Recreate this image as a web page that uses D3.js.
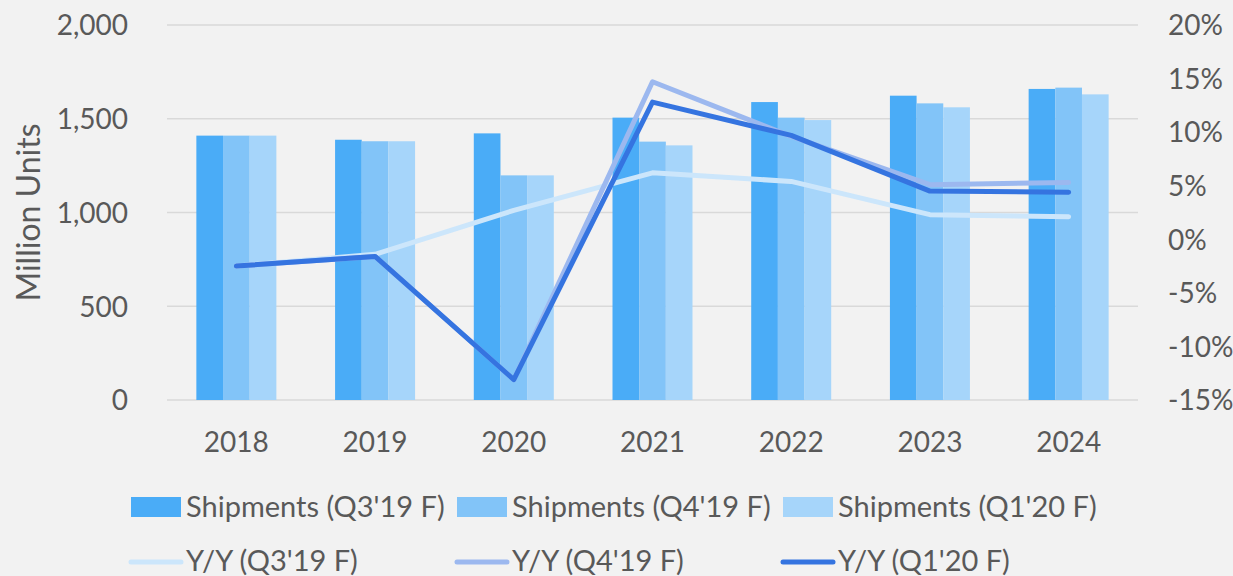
<!DOCTYPE html>
<html>
<head>
<meta charset="UTF-8">
<script src="https://cdn.jsdelivr.net/npm/d3@7"></script>
<style>
  body { margin: 0; background: #f2f2f2; }
  svg text { font-family: Lato, "Open Sans", sans-serif; fill: #595959; }
</style>
</head>
<body>
<div id="chart"></div>
<script>
// data
const years = ["2018", "2019", "2020", "2021", "2022", "2023", "2024"];
const barNames = ["Shipments (Q3'19 F)", "Shipments (Q4'19 F)", "Shipments (Q1'20 F)"];
const shipQ3 = [1410, 1388, 1422, 1506, 1589, 1623, 1659];
const shipQ4 = [1410, 1380, 1198, 1378, 1506, 1582, 1666];
const shipQ1 = [1410, 1380, 1198, 1358, 1493, 1561, 1630];
const lineNames = ["Y/Y (Q3'19 F)", "Y/Y (Q4'19 F)", "Y/Y (Q1'20 F)"];
const yoyQ3 = [-2.5, -1.4, 2.7, 6.2, 5.4, 2.3, 2.1];
const yoyQ4 = [-2.5, -1.6, -13.1, 14.7, 9.6, 5.1, 5.3];
const yoyQ1 = [-2.5, -1.6, -13.1, 12.8, 9.7, 4.5, 4.4];
const leftTicks = [0, 500, 1000, 1500, 2000];
const rightTicks = [-15, -10, -5, 0, 5, 10, 15, 20];

const barColors = ["#4aacf7", "#82c4f8", "#a6d5fa"];
const lineColors = ["#cce6fb", "#9cb8ef", "#3574e0"];

const W = 1233, H = 576;
const plot = { left: 167, right: 1138, top: 25, bottom: 400 };

const svg = d3.select("#chart").append("svg")
  .attr("width", W).attr("height", H);

svg.append("rect").attr("width", W).attr("height", H).attr("fill", "#f2f2f2");

const x = d3.scaleBand().domain(years).range([plot.left, plot.right]);
const yL = d3.scaleLinear().domain([0, 2000]).range([plot.bottom, plot.top]);
const yR = d3.scaleLinear().domain([-15, 20]).range([plot.bottom, plot.top]);

// gridlines
svg.append("g").selectAll("line").data(leftTicks).join("line")
  .attr("x1", plot.left).attr("x2", plot.right)
  .attr("y1", d => yL(d)).attr("y2", d => yL(d))
  .attr("stroke", "#d9d9d9").attr("stroke-width", 1.5);

// left axis
const gL = svg.append("g").attr("transform", `translate(${plot.left},0)`)
  .call(d3.axisLeft(yL).tickValues(leftTicks).tickFormat(d3.format(",")).tickSize(0).tickPadding(39));
gL.select(".domain").remove();
gL.selectAll("text").style("font-size", "28px").attr("dy", "0.35em");

// right axis
const gR = svg.append("g").attr("transform", `translate(${plot.right},0)`)
  .call(d3.axisRight(yR).tickValues(rightTicks).tickFormat(d => d + "%").tickSize(0).tickPadding(30));
gR.select(".domain").remove();
gR.selectAll("text").style("font-size", "28px").attr("dy", "0.35em");

// x axis
const gX = svg.append("g").attr("transform", `translate(0,${plot.bottom})`)
  .call(d3.axisBottom(x).tickSize(0).tickPadding(42));
gX.select(".domain").remove();
gX.selectAll("text").style("font-size", "28px").attr("dy", "0.35em");

svg.append("text")
  .attr("transform", `translate(40,${(plot.top + plot.bottom) / 2}) rotate(-90)`)
  .attr("text-anchor", "middle")
  .style("font-size", "32px")
  .text("Million Units");

// bars
const barSeries = [shipQ3, shipQ4, shipQ1];
const groupW = 80;
const xs = d3.scaleBand().domain([0, 1, 2]).range([0, groupW]);
barSeries.forEach((vals, s) => {
  svg.append("g").selectAll("rect").data(vals).join("rect")
    .attr("x", (d, i) => x(years[i]) + x.bandwidth() / 2 - groupW / 2 + xs(s))
    .attr("width", xs.bandwidth())
    .attr("y", d => yL(d))
    .attr("height", d => yL(0) - yL(d))
    .attr("fill", barColors[s]);
});

// lines
const lineSeries = [yoyQ3, yoyQ4, yoyQ1];
const line = d3.line()
  .x((d, i) => x(years[i]) + x.bandwidth() / 2)
  .y(d => yR(d));
lineSeries.forEach((vals, s) => {
  svg.append("path")
    .attr("d", line(vals))
    .attr("fill", "none")
    .attr("stroke", lineColors[s])
    .attr("stroke-width", 5)
    .attr("stroke-linecap", "round")
    .attr("stroke-linejoin", "round");
});

// legend
const legX = [131, 457, 783];
const leg = svg.append("g");
barNames.forEach((n, i) => {
  leg.append("rect").attr("x", legX[i]).attr("y", 497).attr("width", 50).attr("height", 20)
    .attr("fill", barColors[i]);
  leg.append("text").attr("x", legX[i] + 55).attr("y", 507).attr("dy", "0.35em")
    .style("font-size", "29px").text(n);
});
lineNames.forEach((n, i) => {
  leg.append("line").attr("x1", legX[i]).attr("x2", legX[i] + 50)
    .attr("y1", 562).attr("y2", 562)
    .attr("stroke", lineColors[i]).attr("stroke-width", 5).attr("stroke-linecap", "round");
  leg.append("text").attr("x", legX[i] + 55).attr("y", 561).attr("dy", "0.35em")
    .style("font-size", "29px").text(n);
});
</script>
</body>
</html>
